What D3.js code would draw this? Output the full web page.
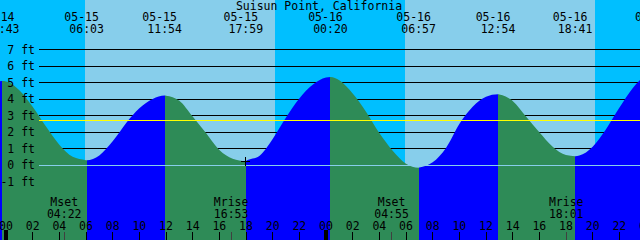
<!DOCTYPE html>
<html lang="en">
<head>
<meta charset="UTF-8">
<title>Suisun Point, California</title>
<script src="https://d3js.org/d3.v7.min.js"></script>
<style>
  body { margin: 0; background: #fff; }
  svg { display: block; }
  text { font-family: "DejaVu Sans Mono", monospace; font-size: 11.5px; fill: #000; }
</style>
</head>
<body>
<svg id="tides" width="640" height="240"></svg>
<script>
// high / low tides (ft)
const extremeTimes = ["05-14 23:43", "05-15 06:03", "05-15 11:54", "05-15 17:59",
                      "05-16 00:20", "05-16 06:57", "05-16 12:54", "05-16 18:41", "05-17 00:51"];
const extremeLevels = [5.1, 0.3, 4.22, 0.25, 5.35, -0.15, 4.3, 0.55, 5.6];

// hourly water level (ft), first reading at 05-14 22:00
const hourlyStart = "05-14 22:00";
const hourlyLevels = [4.3, 5.02, 5.08, 4.55, 3.55, 2.35, 1.25, 0.52, 0.31, 0.6,
                      1.45, 2.55, 3.45, 4.02, 4.21, 3.91, 2.95, 1.95, 0.92, 0.4,
                      0.26, 0.57, 1.6, 2.9, 4.05, 4.88, 5.32, 5.15, 4.35, 3.25,
                      1.95, 0.88, 0.1, -0.14, 0.18, 1.05, 2.5, 3.55, 4.15, 4.29,
                      3.9, 2.95, 2.0, 1.12, 0.62, 0.59, 1.13, 2.19, 3.48, 4.67,
                      5.43, 5.59];

const sunrises = ["05-15 05:56", "05-16 05:56"];
const sunsets = ["05-15 20:11", "05-16 20:11"];

const moonTimes = ["05-15 04:22", "05-15 16:53", "05-16 04:55", "05-16 18:01"];
const moonKinds = ["Mset", "Mrise", "Mset", "Mrise"];

const levelTicks = [-1, 0, 1, 2, 3, 4, 5, 6, 7];
const meanLevel = 2.7;
const markTime = "05-15 17:59";
const markLevel = 0.25;

const parse = s => d3.utcParse("%Y-%m-%d %H:%M")("2024-" + s);
const fmtTime = d3.utcFormat("%H:%M");
const fmtDate = d3.utcFormat("%m-%d");

const W = 640, H = 240;
const svg = d3.select("#tides");

const x = d3.scaleUtc()
    .domain([parse("05-14 23:33"), parse("05-16 23:33")])
    .range([0, W]);
const y = d3.scaleLinear().domain([0, 7]).range([165.3, 49.7]);

const extremes = extremeTimes.map((t, i) => ({t: parse(t), v: extremeLevels[i]}));
const hourly = hourlyLevels.map((v, i) => ({t: d3.utcHour.offset(parse(hourlyStart), i), v}));
const points = hourly.concat(extremes).sort((a, b) => a.t - b.t);

// sky: night then daylight bands
svg.append("rect").attr("width", W).attr("height", H).attr("fill", "#00BFFF");
svg.selectAll(".day").data(sunrises).join("rect")
    .attr("x", (d, i) => x(parse(d)))
    .attr("width", (d, i) => x(parse(sunsets[i])) - x(parse(d)))
    .attr("height", H)
    .attr("fill", "#87CEEB")
    .attr("shape-rendering", "crispEdges");

// grid lines (behind the water)
svg.selectAll(".grid").data(levelTicks.filter(d => d !== 0)).join("line")
    .attr("x1", 39).attr("x2", W)
    .attr("y1", d => y(d)).attr("y2", d => y(d))
    .attr("stroke", "#000")
    .attr("shape-rendering", "crispEdges");

// water, flood in blue and ebb in green
const area = d3.area()
    .x(d => x(d.t)).y0(H).y1(d => y(d.v))
    .curve(d3.curveMonotoneX);
svg.append("clipPath").attr("id", "water")
    .append("path").attr("d", area(points));

const bounds = [x.domain()[0]].concat(extremes.map(d => d.t), [x.domain()[1]]);
const segs = d3.pairs(bounds).map(([a, b], i) => {
    let rising;
    if (i === 0) rising = extremes[0].v > extremes[1].v;
    else if (i === extremes.length) rising = extremes[i - 1].v < extremes[i - 2].v;
    else rising = extremes[i].v > extremes[i - 1].v;
    return {a, b, rising};
});
svg.append("g").attr("clip-path", "url(#water)")
  .selectAll("rect").data(segs).join("rect")
    .attr("x", d => Math.max(0, x(d.a)))
    .attr("width", d => Math.min(W, x(d.b)) - Math.max(0, x(d.a)))
    .attr("y", 0).attr("height", H)
    .attr("fill", d => d.rising ? "#0000FF" : "#2E8B57")
    .attr("shape-rendering", "crispEdges");

// datum and mean level lines on top
svg.append("line")
    .attr("x1", 39).attr("x2", W).attr("y1", y(0)).attr("y2", y(0))
    .attr("stroke", "#87CEEB").attr("shape-rendering", "crispEdges");
svg.append("line")
    .attr("x1", 39).attr("x2", W).attr("y1", y(meanLevel)).attr("y2", y(meanLevel))
    .attr("stroke", "#FFFF00").attr("shape-rendering", "crispEdges");

// level labels
svg.selectAll(".lvl").data(levelTicks).join("text")
    .attr("x", 35).attr("y", d => y(d) + 4)
    .attr("text-anchor", "end")
    .text(d => d + " ft");

// marker at the low water
svg.append("path")
    .attr("d", `M${x(parse(markTime)) - 4.5},${y(markLevel)}h9M${x(parse(markTime))},${y(markLevel) - 4.5}v9`)
    .attr("stroke", "#000").attr("shape-rendering", "crispEdges");

// hour axis
const hours = d3.utcHour.every(2).range(d3.utcHour.offset(x.domain()[0], -2), d3.utcHour.offset(x.domain()[1], 2));
svg.selectAll(".tick").data(hours).join("line")
    .attr("x1", d => x(d)).attr("x2", d => x(d))
    .attr("y1", d => d.getUTCHours() === 0 ? 230 : 232).attr("y2", H)
    .attr("stroke", "#000")
    .attr("stroke-width", d => d.getUTCHours() === 0 ? 4 : 1)
    .attr("shape-rendering", "crispEdges");
svg.selectAll(".hr").data(hours).join("text")
    .attr("x", d => x(d)).attr("y", 230)
    .attr("text-anchor", "middle")
    .text(d3.utcFormat("%H"));

// moon rise / set
svg.selectAll(".mtick").data(moonTimes).join("line")
    .attr("x1", d => x(parse(d))).attr("x2", d => x(parse(d)))
    .attr("y1", 232).attr("y2", H)
    .attr("stroke", "#404040").attr("shape-rendering", "crispEdges");
svg.selectAll(".mkind").data(moonTimes).join("text")
    .attr("x", d => x(parse(d))).attr("y", 206)
    .attr("text-anchor", "middle")
    .text((d, i) => moonKinds[i]);
svg.selectAll(".mtime").data(moonTimes).join("text")
    .attr("x", d => x(parse(d))).attr("y", 218)
    .attr("text-anchor", "middle")
    .text(d => fmtTime(parse(d)));

// tide times along the top
svg.selectAll(".edate").data(extremes).join("text")
    .attr("x", d => x(d.t) - 5).attr("y", 21)
    .attr("text-anchor", "middle")
    .text(d => fmtDate(d.t));
svg.selectAll(".etime").data(extremes).join("text")
    .attr("x", d => x(d.t)).attr("y", 33)
    .attr("text-anchor", "middle")
    .text(d => fmtTime(d.t));

svg.append("text")
    .attr("x", 319).attr("y", 9.5)
    .attr("text-anchor", "middle")
    .text("Suisun Point, California");
</script>
</body>
</html>
